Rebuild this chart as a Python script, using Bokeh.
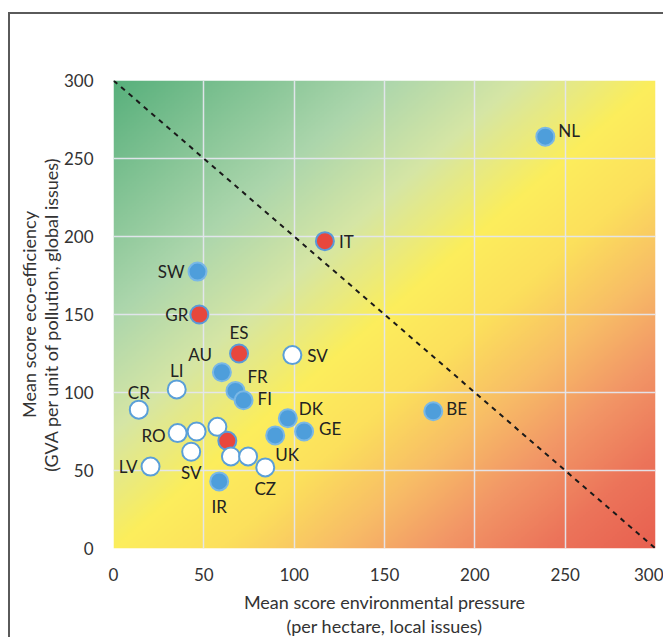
import numpy as np
from bokeh.plotting import figure
from bokeh.models import ColumnDataSource, FixedTicker, Range1d
from bokeh.core.properties import value
from bokeh.embed import file_html
from bokeh.resources import INLINE

# ---- data ----
countries = ["NL", "IT", "SW", "GR", "ES", "SV", "AU", "FR", "FI", "LI", "CR", "BE", "DK",
             "GE", "UK", "RO", "", "", "", "SV", "", "", "CZ", "LV", "IR"]
pressure = [239, 117, 46.5, 47.5, 69.5, 99, 60, 67.5, 72, 35, 14, 177, 96.5,
            105.5, 89.5, 35.5, 46, 57.5, 63, 43, 65, 74.5, 84, 20.5, 58.5]
efficiency = [264, 197, 177.5, 150, 125, 124, 113, 101, 95, 102, 89, 88, 83.5,
              75, 72.5, 74, 75, 78, 69, 62, 59, 59, 52, 52.5, 43]
group = ["blue", "red", "blue", "red", "red", "white", "blue", "blue", "blue", "white", "white",
         "blue", "blue", "blue", "blue", "white", "white", "white", "red", "white", "white",
         "white", "white", "white", "blue"]
axis_min = 0
axis_max = 300
tick_values = [0, 50, 100, 150, 200, 250, 300]

# ---- styles ----
fill_map = {"blue": "#4e9edb", "red": "#e8473d", "white": "#ffffff"}
line_map = {"blue": "#7ab8e6", "red": "#5a9ad8", "white": "#5a9fd8"}
# label offsets (screen px): dx, dy, align
label_style = [(13, -6, "left"), (14, 0, "left"), (-13, 0, "right"), (-11, 0, "right"),
               (0, -21, "center"), (15, 0, "left"), (-10, -18, "right"), (12, -14, "left"),
               (14, -2, "left"), (0, -19, "center"), (0, -17, "center"), (13, -3, "left"),
               (11, -10, "left"), (15, -3, "left"), (0, 19, "left"), (-12, 2, "right"),
               (0, 0, "left"), (0, 0, "left"), (0, 0, "left"), (0, 21, "center"),
               (0, 0, "left"), (0, 0, "left"), (0, 21, "center"), (-13, 0, "right"),
               (0, 25, "center")]

FONT = "Lato"

p = figure(width=655, height=625, output_backend="svg", toolbar_location=None,
           x_range=Range1d(axis_min, axis_max), y_range=Range1d(axis_min, axis_max),
           min_border_left=103, min_border_right=10, min_border_top=66, min_border_bottom=88,
           background_fill_color="white", border_fill_color="white")
p.outline_line_color = None
p.styles = {"border-top": "2px solid #5a5a5a", "border-left": "2px solid #5a5a5a",
            "margin-top": "12px", "margin-left": "8px"}

# background gradient (style)
N = 300
gx = np.linspace(axis_min, axis_max, N)
gy = np.linspace(axis_min, axis_max, N)
X, Y = np.meshgrid(gx, gy)
t = (X - Y) / (axis_max - axis_min)  # -1 (top-left) .. 1 (bottom-right)
stops_t = [-1.0, -0.5, -0.25, 0.0, 0.2, 0.4, 0.6, 0.8, 1.0]
stops_c = np.array([[88, 176, 124], [172, 214, 172], [214, 230, 165], [252, 238, 92],
                    [252, 224, 92], [248, 190, 102], [242, 150, 102], [236, 116, 90],
                    [232, 96, 80]], dtype=float)
rgb = np.zeros(X.shape + (3,))
for k in range(3):
    rgb[..., k] = np.interp(t, stops_t, stops_c[:, k])
img = np.zeros(X.shape, dtype=np.uint32)
view = img.view(dtype=np.uint8).reshape(X.shape + (4,))
view[..., 0] = rgb[..., 0].astype(np.uint8)
view[..., 1] = rgb[..., 1].astype(np.uint8)
view[..., 2] = rgb[..., 2].astype(np.uint8)
view[..., 3] = 255
p.image_rgba(image=[img], x=axis_min, y=axis_min, dw=axis_max - axis_min,
             dh=axis_max - axis_min, level="image")

# grid
for g in (p.xgrid[0], p.ygrid[0]):
    g.grid_line_color = "#e4e6ee"
    g.grid_line_width = 1.5
    g.grid_line_alpha = 0.95

# axes
for ax in (p.xaxis[0], p.yaxis[0]):
    ax.ticker = FixedTicker(ticks=tick_values)
    ax.axis_line_color = None
    ax.major_tick_line_color = None
    ax.minor_tick_line_color = None
    ax.major_label_text_font = FONT
    ax.major_label_text_font_size = "17px"
    ax.major_label_text_color = "#333333"
    ax.axis_label_text_font = FONT
    ax.axis_label_text_font_size = "18px"
    ax.axis_label_text_font_style = "normal"
    ax.axis_label_text_color = "#333333"
p.xaxis.axis_label_text_line_height = 1.1
p.yaxis.axis_label_text_line_height = 1.0
p.xaxis.major_label_standoff = 13
p.yaxis.major_label_standoff = 14
p.xaxis.axis_label = "Mean score environmental pressure\n(per hectare, local issues)"
p.yaxis.axis_label = "Mean score eco-efficiency\n(GVA per unit of pollution, global issues)"
p.xaxis.axis_label_standoff = 7
p.yaxis.axis_label_standoff = -1

# diagonal
p.line([axis_min, axis_max], [axis_max, axis_min], line_color="#1a1a1a",
       line_width=2, line_dash="5 5")

src = ColumnDataSource(dict(
    x=pressure, y=efficiency, label=countries,
    fill=[fill_map[g] for g in group], line=[line_map[g] for g in group],
    dx=[ls[0] for ls in label_style], dy=[ls[1] for ls in label_style],
    align=[ls[2] for ls in label_style]))

p.scatter("x", "y", source=src, size=18, fill_color="fill", line_color="line",
          line_width=2)
p.text("x", "y", text="label", source=src, x_offset="dx", y_offset="dy",
       text_align="align", text_baseline="middle", text_font=value(FONT),
       text_font_size="17px", text_color="#222222")

open("out.html", "w").write(file_html(p, INLINE))
